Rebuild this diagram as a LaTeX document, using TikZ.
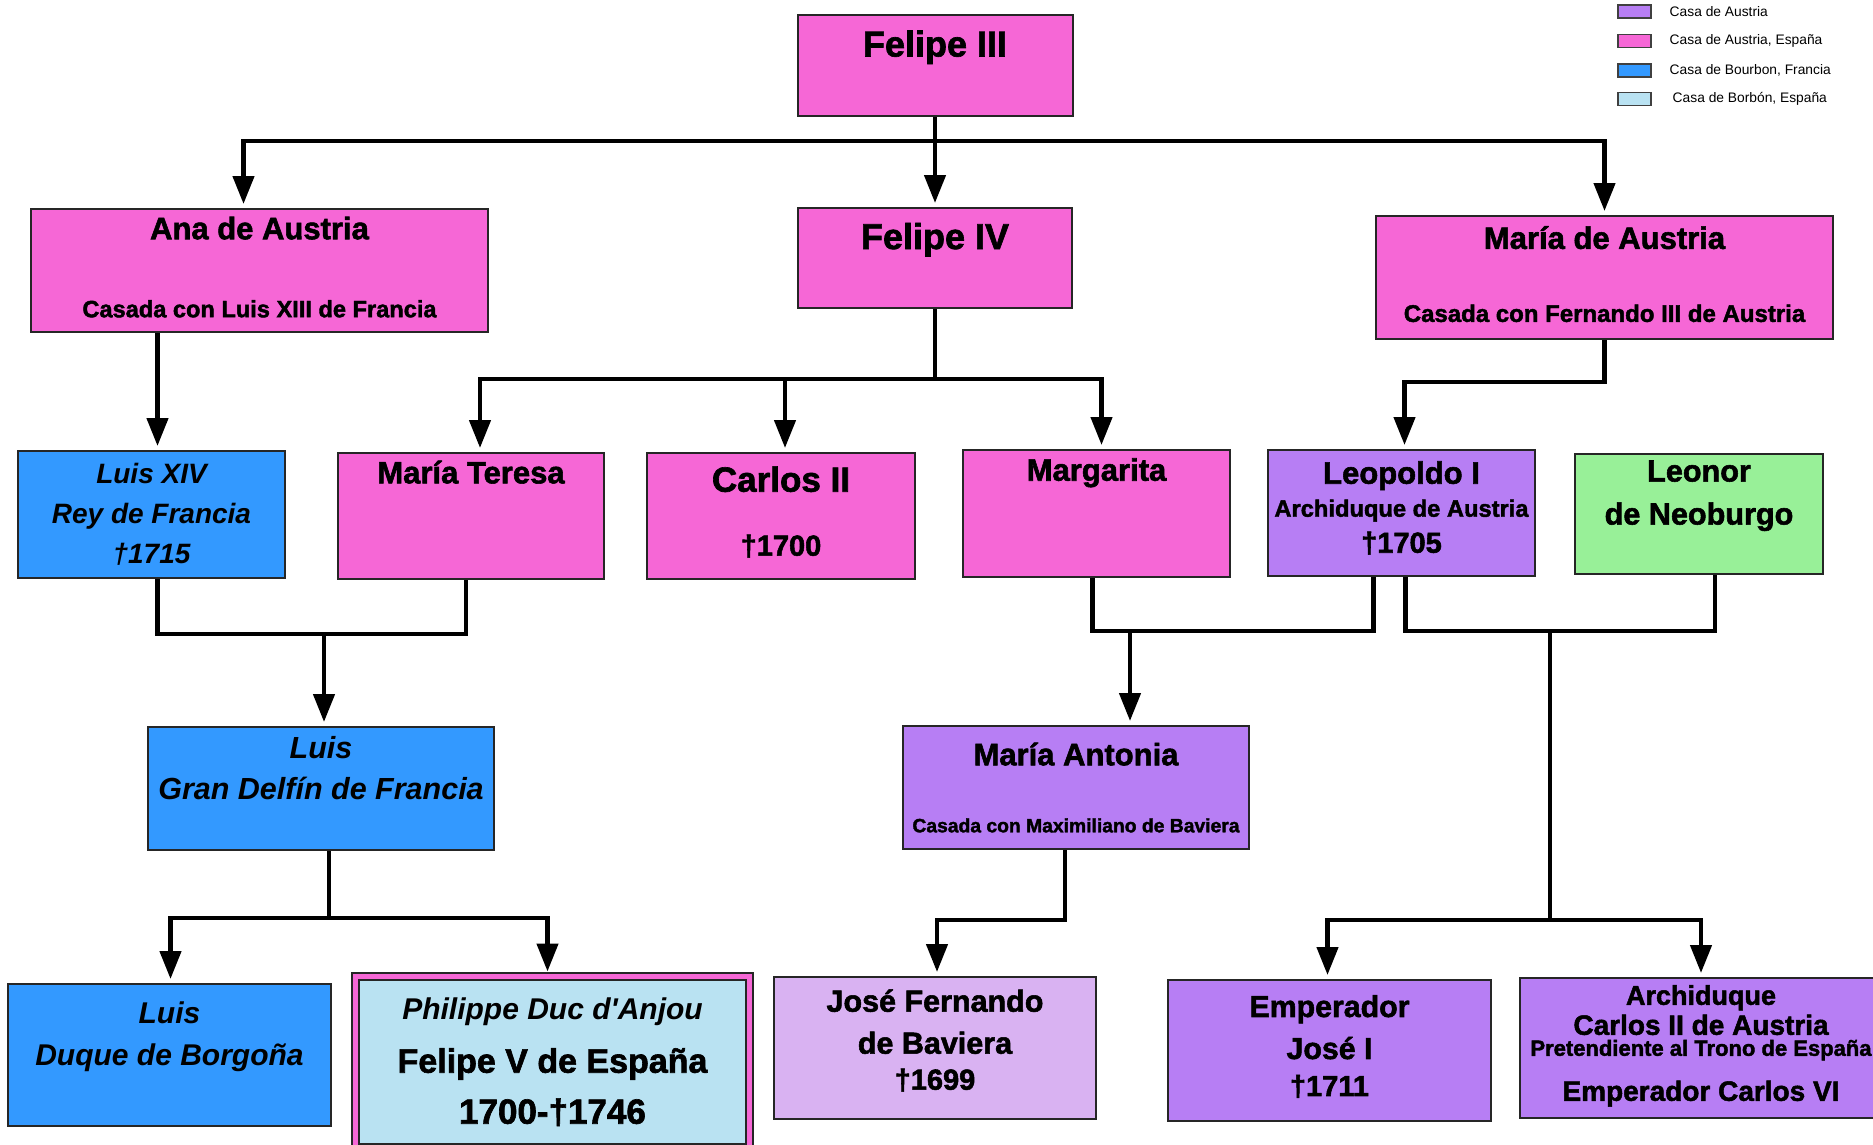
\documentclass[tikz,border=0pt]{standalone}
\usepackage{fontspec}
\setmainfont{Liberation Sans}[BoldFeatures={FakeBold=1.8}]
\usepackage{tikz}
\usetikzlibrary{arrows.meta}
\usetikzlibrary{positioning}

\definecolor{espana}{HTML}{F667D6}
\definecolor{austria}{HTML}{B77EF4}
\definecolor{francia}{HTML}{3399FF}
\definecolor{borbon}{HTML}{B9E2F2}
\definecolor{neoburgo}{HTML}{98F098}
\definecolor{baviera}{HTML}{D9B2F2}
\newcommand{\sz}[2]{\fontsize{#1}{#2}\selectfont}

\begin{document}
\begin{tikzpicture}[x=1pt,y=-1pt,>={Triangle[width=21pt,length=28pt]},
  arrow line/.style={->,line width=4.5pt,shorten >=4pt},
  link/.style={line width=4.5pt},
  box node/.style={draw=black!85,line width=2pt,inner sep=0pt,anchor=north west,align=center},
  legend box/.style={draw=black!75,line width=1.5pt,inner sep=0pt,anchor=north west,minimum width=33pt,minimum height=13pt},
  legend text/.style={inner sep=0pt,font=\sz{13.8}{16}}]

  \useasboundingbox (0,0) rectangle (1873,1144);
  \clip (0,0) rectangle (1873,1144);

  % legend
  \node[legend box,fill=austria] (lg1) at (1617,4) {};
  \node[legend box,fill=espana] (lg2) [below=15pt of lg1] {};
  \node[legend box,fill=francia] (lg3) [below=15pt of lg2] {};
  \node[legend box,fill=borbon] (lg4) [below=14pt of lg3] {};
  \node[legend text] (lt1) [right=18pt of lg1] {Casa de Austria};
  \node[legend text] (lt2) [right=18pt of lg2] {Casa de Austria, España};
  \node[legend text] (lt3) [right=18pt of lg3] {Casa de Bourbon, Francia};
  \node[legend text] (lt4) [right=21pt of lg4] {Casa de Borbón, España};

  % generations
  \node[box node,fill=espana,minimum width=275pt,minimum height=101pt,font=\bfseries\sz{36}{44}] (f3) at (796.5,14) {Felipe III\\~};

  \node[box node,fill=espana,minimum width=457pt,minimum height=123pt,font=\bfseries\sz{31}{36}] (ana) at (30,208)
    {Ana de Austria\\[42pt]{\sz{23.6}{28}Casada con Luis XIII de Francia}\\[-29pt]~};
  \node[box node,fill=espana,minimum width=274pt,minimum height=100pt,font=\bfseries\sz{36}{44}] (f4) at (797,207) {Felipe IV\\~};
  \node[box node,fill=espana,minimum width=457pt,minimum height=123pt,font=\bfseries\sz{31}{36}] (mda) at (1375,215)
    {María de Austria\\[37pt]{\sz{24}{28}Casada con Fernando III de Austria}\\[-29pt]~};

  \node[box node,fill=francia,minimum width=267pt,minimum height=127pt,font=\bfseries\itshape\sz{28}{40}] (l14) at (17,450)
    {Luis XIV\\Rey de Francia\\†1715};
  \node[box node,fill=espana,minimum width=266pt,minimum height=126pt,font=\bfseries\sz{31}{44}] (mt) at (337,452) {María Teresa\\~\\~};
  \node[box node,fill=espana,minimum width=268pt,minimum height=126pt,font=\bfseries\sz{35}{40}] (c2) at (646,452)
    {Carlos II\\[24pt]{\sz{29}{32}†1700}\\[-30pt]~};
  \node[box node,fill=espana,minimum width=267pt,minimum height=127pt,font=\bfseries\sz{31}{44}] (mg) at (962,449) {Margarita\\~\\~};
  \node[box node,fill=austria,minimum width=267pt,minimum height=126pt,font=\bfseries\sz{31}{33}] (leo) at (1267,449)
    {Leopoldo I\\{\sz{23.7}{26}Archiduque de Austria}\\[3pt]{\sz{29}{32}†1705}\\[-21pt]~};
  \node[box node,fill=neoburgo,minimum width=248pt,minimum height=120pt,font=\bfseries\sz{30.6}{43}] (ln) at (1574,453)
    {Leonor\\de Neoburgo\\~};

  \node[box node,fill=francia,minimum width=346pt,minimum height=123pt,font=\bfseries\itshape\sz{30.5}{41}] (gd) at (147,726)
    {Luis\\Gran Delfín de Francia\\~};
  \node[box node,fill=austria,minimum width=346pt,minimum height=123pt,font=\bfseries\sz{31}{36}] (ma) at (902,725)
    {María Antonia\\[31pt]{\sz{19.3}{22}Casada con Maximiliano de Baviera}};

  \node[box node,fill=francia,minimum width=323pt,minimum height=142pt,font=\bfseries\itshape\sz{30}{42}] (ld) at (7,983)
    {Luis\\Duque de Borgoña\\~};
  \node[box node,fill=borbon,double=espana,double distance=5pt,minimum width=394pt,minimum height=171pt,font=\bfseries\sz{34}{40}] (fv) at (354.5,975.5)
    {{\itshape\sz{30}{34}Philippe Duc d\textquotesingle Anjou}\\[13pt]Felipe V de España\\[11pt]{\sz{35}{40}1700-†1746}};
  \node[box node,fill=baviera,minimum width=322pt,minimum height=142pt,font=\bfseries\sz{30.5}{42}] (jf) at (773,976)
    {José Fernando\\de Baviera\\[-6pt]{\sz{29}{32}†1699}\\[-25pt]~};
  \node[box node,fill=austria,minimum width=323pt,minimum height=141pt,font=\bfseries\sz{30.3}{42}] (ej) at (1167,979)
    {Emperador\\José I\\[-5pt]{\sz{29}{32}†1711}\\[-32pt]~};
  \node[box node,fill=austria,minimum width=362pt,minimum height=140pt,font=\bfseries\sz{28}{30}] (ac) at (1519,977)
    {{\sz{27}{30}Archiduque}\\Carlos II de Austria\\[-9pt]{\sz{22}{24}Pretendiente al Trono de España}\\[15pt]Emperador Carlos VI\\[-20pt]~};

  % lines of descent
  \draw[arrow line] (f3) -- (f4);
  \draw[arrow line] ([yshift=-24pt]f3.south) -| ([xshift=-16pt]ana.north);
  \draw[arrow line] ([yshift=-24pt]f3.south) -| (mda.north);

  \draw[arrow line] (f4.south) -- ++(0,70) -| ([xshift=9pt]mt.north);
  \draw[arrow line] (f4.south) -- ++(0,70) -| ([xshift=4pt]c2.north);
  \draw[arrow line] (f4.south) -- ++(0,70) -| ([xshift=5pt]mg.north);

  \draw[arrow line,transform canvas={xshift=6pt}] (l14.north |- ana.south) -- (l14.north);
  \draw[arrow line] (mda.south) -- ++(0,42) -| ([xshift=3pt]leo.north);

  \coordinate (j1) at (324,634);
  \draw[link] ([xshift=6pt]l14.south) |- (j1) -| ([xshift=-5pt]mt.south);
  \draw[arrow line] (j1) -- (j1 |- gd.north);

  \coordinate (j2) at (1130,631);
  \draw[link] ([xshift=-4pt]mg.south) |- (j2) -| ([xshift=-28pt]leo.south);
  \draw[arrow line] (j2) -- (j2 |- ma.north);

  \coordinate (j3) at (1550,631);
  \draw[link] ([xshift=4pt]leo.south) |- (j3) -| ([xshift=16pt]ln.south);
  \draw[arrow line] (j3) -- ++(0,289) -| ([xshift=-2pt]ej.north);
  \draw[arrow line] (j3) -- ++(0,289) -| (ac.north);

  \draw[arrow line] ([xshift=8pt]gd.south) -- ++(0,67) -| ([xshift=1pt]ld.north);
  \draw[arrow line] ([xshift=8pt]gd.south) -- ++(0,67) -| ([xshift=-5pt]fv.north);

  \draw[arrow line] ([xshift=-11pt]ma.south) -- ++(0,70) -| ([xshift=2pt]jf.north);
\end{tikzpicture}
\end{document}
